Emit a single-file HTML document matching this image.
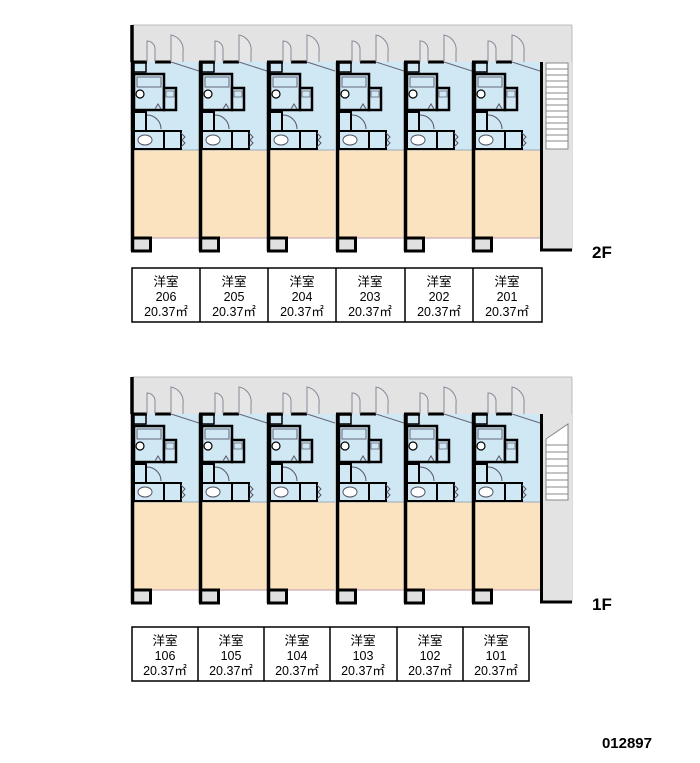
<!DOCTYPE html>
<html><head><meta charset="utf-8"><style>
html,body{margin:0;padding:0;background:#fff;width:700px;height:763px;overflow:hidden}
svg{display:block}
text{font-family:"Liberation Sans","Noto Sans CJK JP",sans-serif;fill:#000}
</style></head><body>
<svg width="700" height="763" viewBox="0 0 700 763" xmlns="http://www.w3.org/2000/svg">
<defs>
<g id="unit">
  <rect x="0" y="37" width="68" height="88" fill="#cfe8f4"/>
  <rect x="0" y="125" width="68" height="88" fill="#fbe3c0"/>
  <line x1="0" y1="125" x2="68" y2="125" stroke="#9ab" stroke-width="1"/>
  <line x1="0" y1="213" x2="68" y2="213" stroke="#b9a" stroke-width="1"/>
  <!-- top wall -->
  <path d="M0 37 H16 M24 37 H40" stroke="#000" stroke-width="3" fill="none"/>
  <path d="M40 37 L68 46" stroke="#667" stroke-width="1" fill="none"/>
  <!-- door arcs -->
  <path d="M16 37 V16 A8 8 0 0 1 24 24 V37" stroke="#889" stroke-width="1" fill="#e6e6e6"/>
  <path d="M40 37 V10 A15 15 0 0 1 52 27 V37" stroke="#889" stroke-width="1" fill="#e6e6e6"/>
  <!-- bathroom -->
  <rect x="3" y="49" width="30" height="36" fill="#cfe8f4" stroke="#000" stroke-width="2.5"/>
  <rect x="6" y="52" width="24" height="10" fill="none" stroke="#667" stroke-width="1"/>
  <circle cx="9" cy="69" r="4" fill="#fff" stroke="#000" stroke-width="1.2"/>
  <path d="M24 84 l3 -5 l3 5" stroke="#556" fill="none"/>
  <!-- kitchen -->
  <rect x="33" y="63" width="12" height="22" fill="#cfe8f4" stroke="#000" stroke-width="2.5"/>
  <rect x="35" y="66" width="8" height="6" fill="none" stroke="#667" stroke-width="0.8"/>
  <!-- toilet/closet -->
  <rect x="3" y="87" width="12" height="19" fill="#cfe8f4" stroke="#000" stroke-width="2"/>
  <path d="M16 90 A14 14 0 0 1 30 104" stroke="#556" fill="none"/>
  <rect x="3" y="106" width="30" height="18" fill="#cfe8f4" stroke="#000" stroke-width="2"/>
  <ellipse cx="14" cy="115" rx="7" ry="5" fill="#fff" stroke="#556"/>
  <rect x="33" y="106" width="17" height="18" fill="#cfe8f4" stroke="#000" stroke-width="2"/>
  <path d="M50 108 l4 4 l-3 3 l3 3 l-4 4" stroke="#556" fill="none"/>
  <rect x="3" y="38" width="12" height="9" fill="none" stroke="#000" stroke-width="1.5"/>
  <!-- bottom box -->
  <rect x="1.5" y="213" width="18" height="13" fill="#e0e0e0" stroke="#000" stroke-width="3"/>
  <!-- wall -->
  <line x1="1.5" y1="37" x2="1.5" y2="226" stroke="#000" stroke-width="3.5"/>
</g>
<g id="floor">
  <rect x="132" y="0" width="440" height="37" fill="#e3e3e3"/>
  <line x1="132" y1="0" x2="572" y2="0" stroke="#bbb"/>
  <line x1="572" y1="0" x2="572" y2="225" stroke="#bbb"/>
  <rect x="542" y="37" width="30" height="188" fill="#e3e3e3"/>
  <use href="#unit" x="131"/>
  <use href="#unit" x="199"/>
  <use href="#unit" x="267"/>
  <use href="#unit" x="336"/>
  <use href="#unit" x="404"/>
  <use href="#unit" x="472"/>
  <line x1="132" y1="0" x2="132" y2="37" stroke="#000" stroke-width="3.5"/>
  <path d="M541.5 37 V225 H572" stroke="#000" stroke-width="3" fill="none"/>
</g>
<g id="lab" font-size="12">
</g>
</defs>

<!-- 2F -->
<use href="#floor" y="25"/>
<g stroke="#888" stroke-width="1">
  <rect x="546" y="63" width="22" height="86" fill="#fff"/>
  <path d="M546 69h22M546 75h22M546 81h22M546 87h22M546 93h22M546 99h22M546 105h22M546 111h22M546 117h22M546 123h22M546 129h22M546 135h22M546 141h22"/>
</g>
<text x="592" y="258" font-size="17" font-weight="bold">2F</text>
<g fill="#fff" stroke="#000" stroke-width="1.5">
  <rect x="132" y="268" width="410" height="54"/>
</g>
<path d="M200 268v54M268 268v54M336 268v54M405 268v54M473 268v54" stroke="#000" stroke-width="1.5"/>
<g font-size="12.5" text-anchor="middle">
  <text x="166" y="286">洋室</text><text x="166" y="301">206</text><text x="166" y="316">20.37㎡</text>
  <text x="234" y="286">洋室</text><text x="234" y="301">205</text><text x="234" y="316">20.37㎡</text>
  <text x="302" y="286">洋室</text><text x="302" y="301">204</text><text x="302" y="316">20.37㎡</text>
  <text x="370" y="286">洋室</text><text x="370" y="301">203</text><text x="370" y="316">20.37㎡</text>
  <text x="439" y="286">洋室</text><text x="439" y="301">202</text><text x="439" y="316">20.37㎡</text>
  <text x="507" y="286">洋室</text><text x="507" y="301">201</text><text x="507" y="316">20.37㎡</text>
</g>

<!-- 1F -->
<use href="#floor" y="377"/>
<g stroke="#888" stroke-width="1">
  <path d="M546 439 L568 424 V500 H546 Z" fill="#fff"/>
  <path d="M546 445h22M546 452h22M546 459h22M546 466h22M546 473h22M546 480h22M546 487h22M546 494h22"/>
</g>
<text x="592" y="610" font-size="17" font-weight="bold">1F</text>
<rect x="132" y="627" width="397" height="54" fill="#fff" stroke="#000" stroke-width="1.5"/>
<path d="M198 627v54M264 627v54M330 627v54M397 627v54M463 627v54" stroke="#000" stroke-width="1.5"/>
<g font-size="12.5" text-anchor="middle">
  <text x="165" y="645">洋室</text><text x="165" y="660">106</text><text x="165" y="675">20.37㎡</text>
  <text x="231" y="645">洋室</text><text x="231" y="660">105</text><text x="231" y="675">20.37㎡</text>
  <text x="297" y="645">洋室</text><text x="297" y="660">104</text><text x="297" y="675">20.37㎡</text>
  <text x="363" y="645">洋室</text><text x="363" y="660">103</text><text x="363" y="675">20.37㎡</text>
  <text x="430" y="645">洋室</text><text x="430" y="660">102</text><text x="430" y="675">20.37㎡</text>
  <text x="496" y="645">洋室</text><text x="496" y="660">101</text><text x="496" y="675">20.37㎡</text>
</g>

<text x="652" y="748" font-size="15" font-weight="bold" text-anchor="end">012897</text>
</svg>
</body></html>
